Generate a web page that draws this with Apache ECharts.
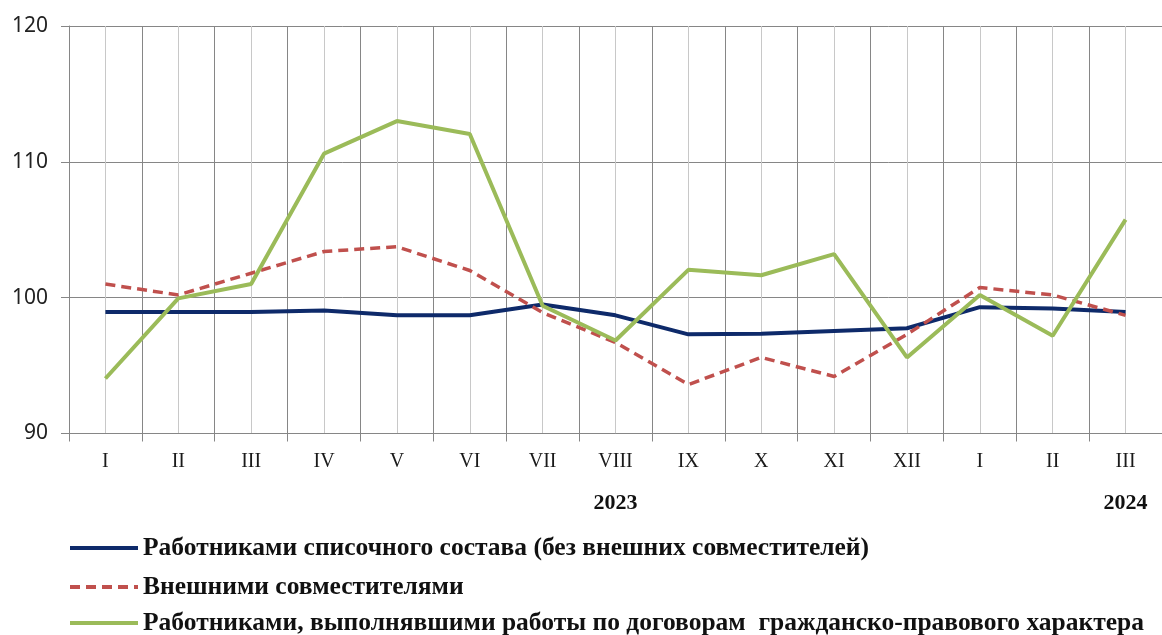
<!DOCTYPE html>
<html>
<head>
<meta charset="utf-8">
<script src="https://cdn.jsdelivr.net/npm/echarts@6/dist/echarts.min.js"></script>
<style>
  html, body { margin: 0; padding: 0; background: #fff; }
  #container-main { width: 1162px; height: 635px; }
</style>
</head>
<body>
<div id="container-main"></div>
<script>
var months = ['I', 'II', 'III', 'IV', 'V', 'VI', 'VII', 'VIII', 'IX', 'X', 'XI', 'XII', 'I', 'II', 'III'];
var yearLabels = ['', '', '', '', '', '', '', '2023', '', '', '', '', '', '', '2024'];

var staffList = [98.95, 98.95, 98.95, 99.05, 98.7, 98.7, 99.5, 98.7, 97.3, 97.35, 97.55, 97.75, 99.3, 99.2, 98.95];
var externalPart = [101.0, 100.2, 101.8, 103.4, 103.75, 102.0, 98.9, 96.7, 93.6, 95.6, 94.2, 97.3, 100.75, 100.2, 98.7];
var civilContract = [94.05, 99.95, 101.0, 110.6, 113.0, 112.05, 99.4, 96.85, 102.05, 101.65, 103.2, 95.6, 100.2, 97.2, 105.75];

var seriesNames = [
  'Работниками списочного состава (без внешних совместителей)',
  'Внешними совместителями',
  'Работниками, выполнявшими работы по договорам  гражданско-правового характера'
];

// one legend per row, Excel-style stacked under the axis
function legendRow(name, top) {
  return {
    orient: 'horizontal',
    left: 68,
    top: top,
    padding: 0,
    itemWidth: 68,
    itemHeight: 4,
    itemStyle: { opacity: 0 },
    lineStyle: { width: 4 },
    data: [name],
    textStyle: {
      fontFamily: 'Liberation Serif',
      fontWeight: 'bold',
      fontSize: 25.5,
      color: '#111'
    }
  };
}

function drawChart(element) {
  var dom = document.getElementById('container-' + element);
  var myChart = echarts.init(dom);
  var option = {
    animation: false,
    grid: {
      left: 69,
      top: 26,
      width: 1100,
      height: 407.5
    },
    legend: [
      legendRow(seriesNames[0], 535),
      legendRow(seriesNames[1], 574),
      legendRow(seriesNames[2], 610)
    ],
    xAxis: [
      {
        type: 'category',
        data: months,
        boundaryGap: true,
        axisLine: { lineStyle: { color: '#868686', width: 1 } },
        axisTick: { show: true, length: 8, lineStyle: { color: '#868686' } },
        axisLabel: {
          margin: 18,
          fontFamily: 'Liberation Serif',
          fontSize: 20,
          color: '#1a1a1a'
        },
        splitLine: { show: true, lineStyle: { color: '#868686', width: 1 } }
      },
      {
        type: 'value',
        min: 0,
        max: 15,
        interval: 1,
        show: true,
        axisLine: { show: false },
        axisTick: { show: false },
        axisLabel: { show: false },
        splitLine: { show: false },
        minorTick: { show: false, splitNumber: 2 },
        minorSplitLine: { show: true, lineStyle: { color: '#c8c8c8', width: 1 } }
      },
      {
        type: 'category',
        data: yearLabels,
        position: 'bottom',
        axisLine: { show: false },
        axisTick: { show: false },
        splitLine: { show: false },
        axisLabel: {
          interval: 0,
          margin: 59,
          fontFamily: 'Liberation Serif',
          fontWeight: 'bold',
          fontSize: 22,
          color: '#111'
        }
      }
    ],
    yAxis: {
      type: 'value',
      min: 90,
      max: 120,
      interval: 10,
      axisLine: { show: true, lineStyle: { color: '#868686' } },
      axisTick: { show: true, length: 8, lineStyle: { color: '#868686' } },
      axisLabel: {
        margin: 21,
        fontFamily: 'Noto Sans',
        fontSize: 21,
        color: '#222'
      },
      splitLine: { show: true, lineStyle: { color: '#868686', width: 1 } }
    },
    series: [
      {
        name: seriesNames[0],
        type: 'line',
        data: staffList,
        symbol: 'none',
        z: 3,
        lineStyle: { color: '#0e2a6a', width: 4 },
        itemStyle: { color: '#0e2a6a' }
      },
      {
        name: seriesNames[1],
        type: 'line',
        data: externalPart,
        symbol: 'none',
        z: 4,
        lineStyle: { color: '#c0504d', width: 3.5, type: [10, 6] },
        itemStyle: { color: '#c0504d' }
      },
      {
        name: seriesNames[2],
        type: 'line',
        data: civilContract,
        symbol: 'none',
        z: 5,
        lineStyle: { color: '#9bbb59', width: 4 },
        itemStyle: { color: '#9bbb59' }
      }
    ]
  };
  myChart.setOption(option, true);
}

drawChart('main');
</script>
</body>
</html>
